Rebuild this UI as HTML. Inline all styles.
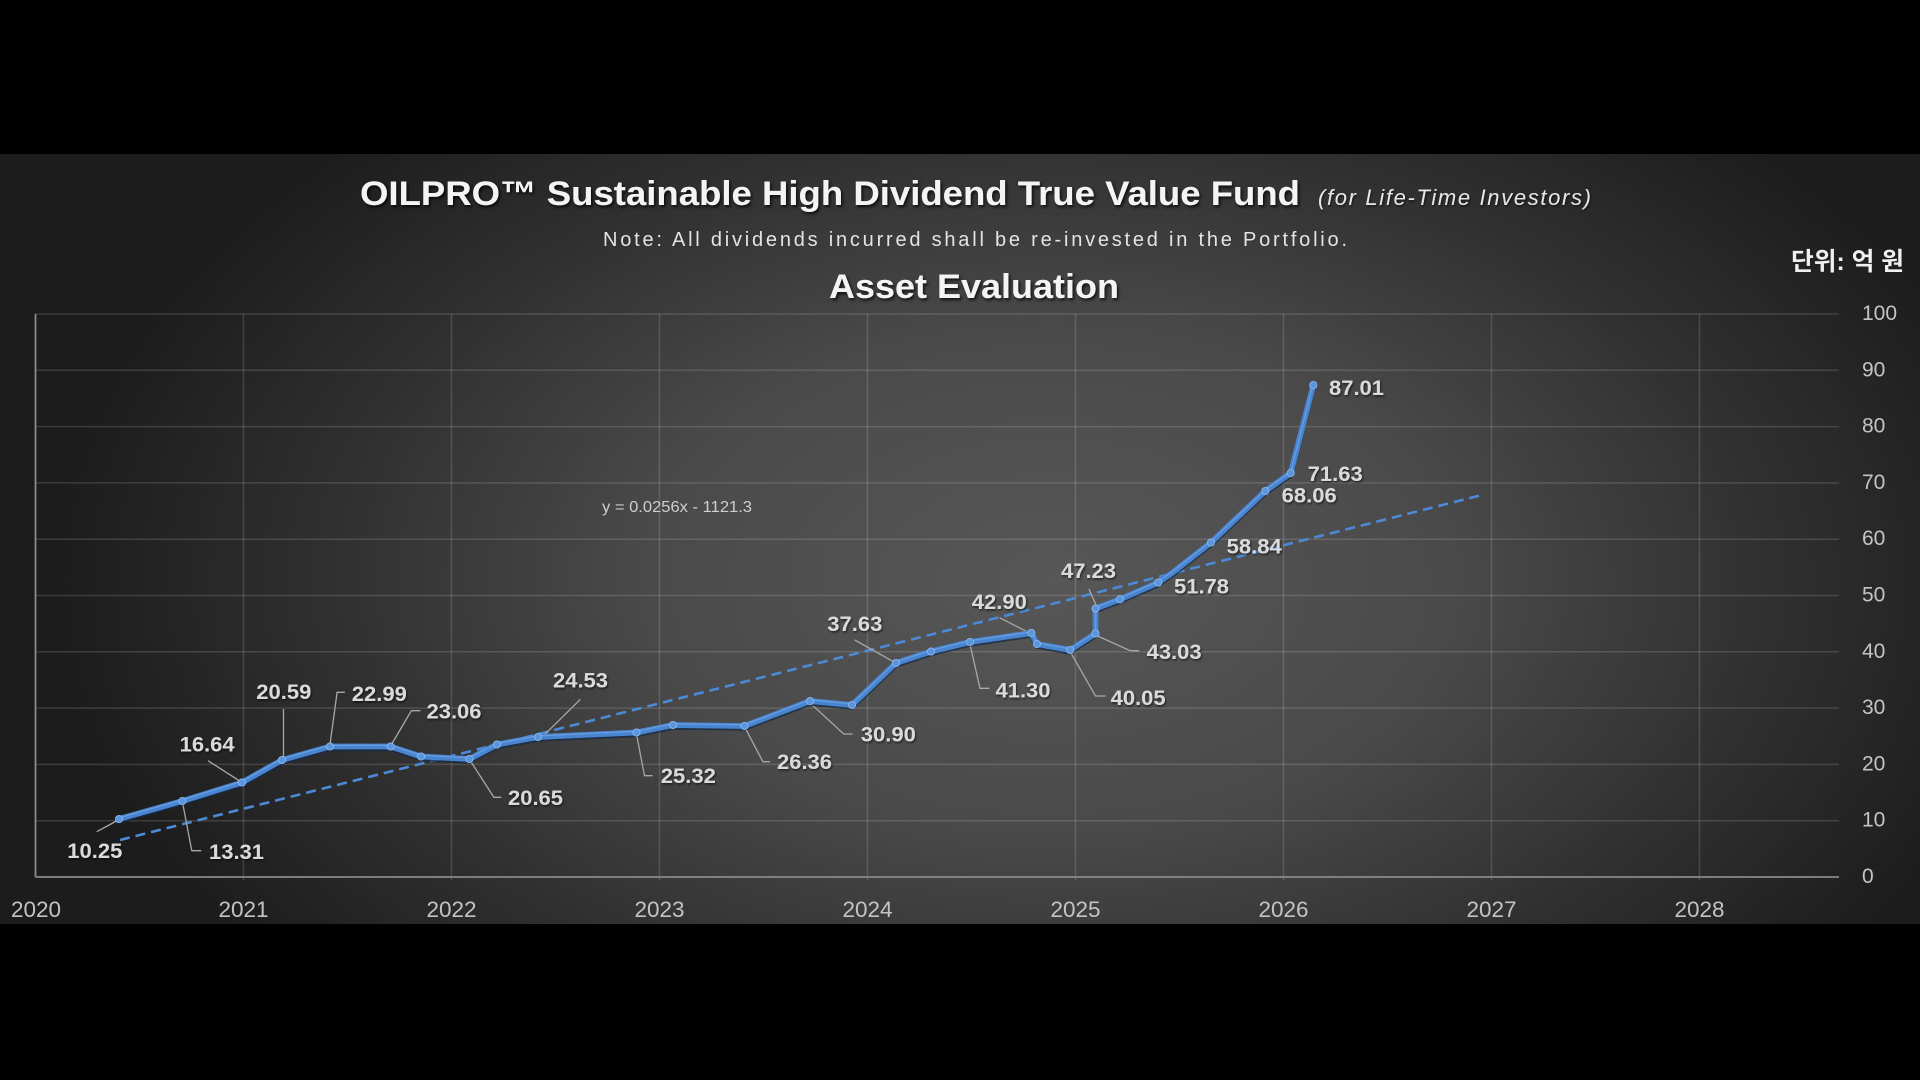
<!DOCTYPE html>
<html><head><meta charset="utf-8">
<style>
html,body{margin:0;padding:0;width:1920px;height:1080px;overflow:hidden;background:#000;}
svg{display:block;}
</style></head>
<body>
<svg width="1920" height="1080" viewBox="0 0 1920 1080" xmlns="http://www.w3.org/2000/svg">
<defs>
<radialGradient id="bg" gradientUnits="userSpaceOnUse" cx="1050" cy="580" r="1000" gradientTransform="translate(1050 580) scale(1 0.62) translate(-1050 -580)">
<stop offset="0" stop-color="#575757"/>
<stop offset="0.4" stop-color="#4a4a4a"/>
<stop offset="0.72" stop-color="#303030"/>
<stop offset="1" stop-color="#1c1c1c"/>
</radialGradient>
<filter id="sh" x="-5%" y="-30%" width="110%" height="160%">
<feDropShadow dx="1.5" dy="2" stdDeviation="1.5" flood-color="#000" flood-opacity="0.8"/>
</filter>
<filter id="sh2" x="-5%" y="-30%" width="110%" height="160%">
<feDropShadow dx="1" dy="1.5" stdDeviation="1" flood-color="#000" flood-opacity="0.6"/>
</filter>
</defs>
<rect x="0" y="0" width="1920" height="1080" fill="#000"/>
<rect x="0" y="154" width="1920" height="770" fill="url(#bg)"/>

<!-- Titles -->
<g font-family="'Liberation Sans', sans-serif" fill="#f4f4f4">
<text x="360" y="205" font-size="34" font-weight="bold" textLength="940" lengthAdjust="spacingAndGlyphs" filter="url(#sh)">OILPRO™ Sustainable High Dividend True Value Fund</text>
<text x="1318" y="205" font-size="22" font-style="italic" fill="#e6e6e6" textLength="273" lengthAdjust="spacing" filter="url(#sh2)">(for Life-Time Investors)</text>
<text x="603" y="246" font-size="20" fill="#e4e4e4" textLength="744" lengthAdjust="spacing">Note: All dividends incurred shall be re-invested in the Portfolio.</text>
<text x="829" y="298" font-size="34" font-weight="bold" textLength="290" lengthAdjust="spacingAndGlyphs" filter="url(#sh)">Asset Evaluation</text>
</g>
<text x="1791" y="270" font-family="'Liberation Sans', 'Noto Sans CJK KR', sans-serif" font-size="25" font-weight="bold" fill="#f0f0f0" textLength="113" lengthAdjust="spacingAndGlyphs">단위: 억 원</text>

<!-- Grid -->
<g stroke="#ffffff" stroke-opacity="0.14" stroke-width="1.5">
<line x1="35.5" y1="314" x2="1839" y2="314"/>
<line x1="35.5" y1="370.3" x2="1839" y2="370.3"/>
<line x1="35.5" y1="426.6" x2="1839" y2="426.6"/>
<line x1="35.5" y1="482.9" x2="1839" y2="482.9"/>
<line x1="35.5" y1="539.2" x2="1839" y2="539.2"/>
<line x1="35.5" y1="595.5" x2="1839" y2="595.5"/>
<line x1="35.5" y1="651.8" x2="1839" y2="651.8"/>
<line x1="35.5" y1="708.1" x2="1839" y2="708.1"/>
<line x1="35.5" y1="764.4" x2="1839" y2="764.4"/>
<line x1="35.5" y1="820.7" x2="1839" y2="820.7"/>
<line x1="243.5" y1="314" x2="243.5" y2="880"/>
<line x1="451.5" y1="314" x2="451.5" y2="880"/>
<line x1="659.5" y1="314" x2="659.5" y2="880"/>
<line x1="867.5" y1="314" x2="867.5" y2="880"/>
<line x1="1075.5" y1="314" x2="1075.5" y2="880"/>
<line x1="1283.5" y1="314" x2="1283.5" y2="880"/>
<line x1="1491.5" y1="314" x2="1491.5" y2="880"/>
<line x1="1699.5" y1="314" x2="1699.5" y2="880"/>
</g>
<g stroke="#8a8a8a" stroke-width="1.8">
<line x1="35.5" y1="877" x2="1839" y2="877"/>
<line x1="35.5" y1="314" x2="35.5" y2="877"/>
</g>

<!-- Axis labels -->
<g font-family="'Liberation Sans', sans-serif" font-size="21" fill="#c4c4c4">
<text x="1862" y="320">100</text>
<text x="1862" y="376.3">90</text>
<text x="1862" y="432.6">80</text>
<text x="1862" y="488.9">70</text>
<text x="1862" y="545.2">60</text>
<text x="1862" y="601.5">50</text>
<text x="1862" y="657.8">40</text>
<text x="1862" y="714.1">30</text>
<text x="1862" y="770.4">20</text>
<text x="1862" y="826.7">10</text>
<text x="1862" y="883">0</text>
</g>
<g font-family="'Liberation Sans', sans-serif" font-size="22.5" fill="#c4c4c4" text-anchor="middle">
<text x="36" y="917">2020</text>
<text x="243.5" y="917">2021</text>
<text x="451.5" y="917">2022</text>
<text x="659.5" y="917">2023</text>
<text x="867.5" y="917">2024</text>
<text x="1075.5" y="917">2025</text>
<text x="1283.5" y="917">2026</text>
<text x="1491.5" y="917">2027</text>
<text x="1699.5" y="917">2028</text>
</g>

<!-- Trendline -->
<line x1="120" y1="840" x2="1482" y2="495" stroke="#4c8ad8" stroke-width="2.6" stroke-dasharray="10 6"/>
<text x="602" y="512" font-family="'Liberation Sans', sans-serif" font-size="15.5" fill="#cfcfcf" textLength="150" lengthAdjust="spacingAndGlyphs">y = 0.0256x - 1121.3</text>

<!-- Leader lines -->
<g stroke="#a8a8a8" stroke-width="1.3" fill="none">
<polyline points="96.7,831.7 118.4,820"/>
<polyline points="182.4,801.7 191.8,850.7 201.2,850.7"/>
<polyline points="208,760.7 240.8,781.7"/>
<polyline points="283.5,709 283.5,758"/>
<polyline points="329.8,746 337.1,692.3 344.9,692.3"/>
<polyline points="390.6,746 411.4,710.7 420.4,710.7"/>
<polyline points="469.4,759.3 493.9,797.3 501.2,797.3"/>
<polyline points="580.4,699.3 540.8,738.3"/>
<polyline points="636.3,733.3 644.5,775.7 652.7,775.7"/>
<polyline points="744.5,726.7 762.9,761.7 770.2,761.7"/>
<polyline points="809.8,702.7 843.7,734 852.7,734"/>
<polyline points="854.7,640 893.5,661.7"/>
<polyline points="969.8,643.3 980,688.3 989.4,688.3"/>
<polyline points="999.6,617.7 1030.2,633.3"/>
<polyline points="1070.2,651.7 1095.5,696 1105.7,696"/>
<polyline points="1095.5,635 1130.2,650.7 1139.2,650.7"/>
<polyline points="1089,589 1096.7,606.7"/>
</g>

<!-- Series -->
<g fill="none" stroke-linejoin="round" stroke-linecap="round">
<polyline transform="translate(0,2)" stroke="#152a45" stroke-opacity="0.7" stroke-width="5.5" points="119,819 182.4,801 242,782.5 282,760 330,746.5 390.6,746.5 421,756.5 469.4,759 497,744.5 538,737 636.5,732.5 673,725 744.5,726 810,701 852,705 896,663 931,651.5 970,642 1031.4,633 1037,644 1070.2,650 1095.5,633.5 1095.5,608.5 1120,599.3 1158.3,582.5 1172,573 1211,542.5 1265.3,491 1290.7,473 1313.3,385"/>
<polyline stroke="#4884d0" stroke-width="5.8" points="119,819 182.4,801 242,782.5 282,760 330,746.5 390.6,746.5 421,756.5 469.4,759 497,744.5 538,737 636.5,732.5 673,725 744.5,726 810,701 852,705 896,663 931,651.5 970,642 1031.4,633 1037,644 1070.2,650 1095.5,633.5 1095.5,608.5 1120,599.3 1158.3,582.5 1172,573 1211,542.5 1265.3,491 1290.7,473 1313.3,385"/>
<polyline transform="translate(0,-1.2)" stroke="#78abe8" stroke-opacity="0.6" stroke-width="1.4" points="119,819 182.4,801 242,782.5 282,760 330,746.5 390.6,746.5 421,756.5 469.4,759 497,744.5 538,737 636.5,732.5 673,725 744.5,726 810,701 852,705 896,663 931,651.5 970,642 1031.4,633 1037,644 1070.2,650 1095.5,633.5 1095.5,608.5 1120,599.3 1158.3,582.5 1172,573 1211,542.5 1265.3,491 1290.7,473 1313.3,385"/>
</g>
<g fill="#5a95de" stroke="#8fbcef" stroke-width="0.8">
<circle cx="119" cy="819" r="3.6"/><circle cx="182.4" cy="801" r="3.6"/><circle cx="242" cy="782.5" r="3.6"/>
<circle cx="282" cy="760" r="3.6"/><circle cx="330" cy="746.5" r="3.6"/><circle cx="390.6" cy="746.5" r="3.6"/>
<circle cx="421" cy="756.5" r="3.6"/><circle cx="469.4" cy="759" r="3.6"/><circle cx="497" cy="744.5" r="3.6"/>
<circle cx="538" cy="737" r="3.6"/><circle cx="636.5" cy="732.5" r="3.6"/><circle cx="673" cy="725" r="3.6"/>
<circle cx="744.5" cy="726" r="3.6"/><circle cx="810" cy="701" r="3.6"/><circle cx="852" cy="705" r="3.6"/>
<circle cx="896" cy="663" r="3.6"/><circle cx="931" cy="651.5" r="3.6"/><circle cx="970" cy="642" r="3.6"/>
<circle cx="1031.4" cy="633" r="3.6"/><circle cx="1037" cy="644" r="3.6"/><circle cx="1070.2" cy="650" r="3.6"/>
<circle cx="1095.5" cy="633.5" r="3.6"/><circle cx="1095.5" cy="608.5" r="3.6"/><circle cx="1120" cy="599.3" r="3.6"/>
<circle cx="1158.3" cy="582.5" r="3.6"/><circle cx="1211" cy="542.5" r="3.6"/><circle cx="1265.3" cy="491" r="3.6"/>
<circle cx="1290.7" cy="473" r="3.6"/><circle cx="1313.3" cy="385" r="3.6"/>
</g>

<!-- Data labels -->
<g font-family="'Liberation Sans', sans-serif" font-size="21" font-weight="bold" fill="#dadada" filter="url(#sh2)">
<text x="67.3" y="858.2" textLength="55" lengthAdjust="spacingAndGlyphs">10.25</text>
<text x="209" y="859.2" textLength="55" lengthAdjust="spacingAndGlyphs">13.31</text>
<text x="179.6" y="751.5" textLength="55" lengthAdjust="spacingAndGlyphs">16.64</text>
<text x="256.3" y="699.2" textLength="55" lengthAdjust="spacingAndGlyphs">20.59</text>
<text x="351.8" y="700.8" textLength="55" lengthAdjust="spacingAndGlyphs">22.99</text>
<text x="426.5" y="718.5" textLength="55" lengthAdjust="spacingAndGlyphs">23.06</text>
<text x="508" y="804.8" textLength="55" lengthAdjust="spacingAndGlyphs">20.65</text>
<text x="553" y="687.5" textLength="55" lengthAdjust="spacingAndGlyphs">24.53</text>
<text x="660.8" y="783.2" textLength="55" lengthAdjust="spacingAndGlyphs">25.32</text>
<text x="777" y="769.2" textLength="55" lengthAdjust="spacingAndGlyphs">26.36</text>
<text x="860.8" y="741.5" textLength="55" lengthAdjust="spacingAndGlyphs">30.90</text>
<text x="827.3" y="630.8" textLength="55" lengthAdjust="spacingAndGlyphs">37.63</text>
<text x="995.5" y="697.5" textLength="55" lengthAdjust="spacingAndGlyphs">41.30</text>
<text x="971.8" y="609.2" textLength="55" lengthAdjust="spacingAndGlyphs">42.90</text>
<text x="1110.6" y="704.8" textLength="55" lengthAdjust="spacingAndGlyphs">40.05</text>
<text x="1146.6" y="658.8" textLength="55" lengthAdjust="spacingAndGlyphs">43.03</text>
<text x="1061" y="578.2" textLength="55" lengthAdjust="spacingAndGlyphs">47.23</text>
<text x="1174" y="593.5" textLength="55" lengthAdjust="spacingAndGlyphs">51.78</text>
<text x="1226.7" y="553.5" textLength="55" lengthAdjust="spacingAndGlyphs">58.84</text>
<text x="1281.7" y="502.5" textLength="55" lengthAdjust="spacingAndGlyphs">68.06</text>
<text x="1307.7" y="480.8" textLength="55" lengthAdjust="spacingAndGlyphs">71.63</text>
<text x="1329" y="394.8" textLength="55" lengthAdjust="spacingAndGlyphs">87.01</text>
</g>
</svg>
</body></html>
